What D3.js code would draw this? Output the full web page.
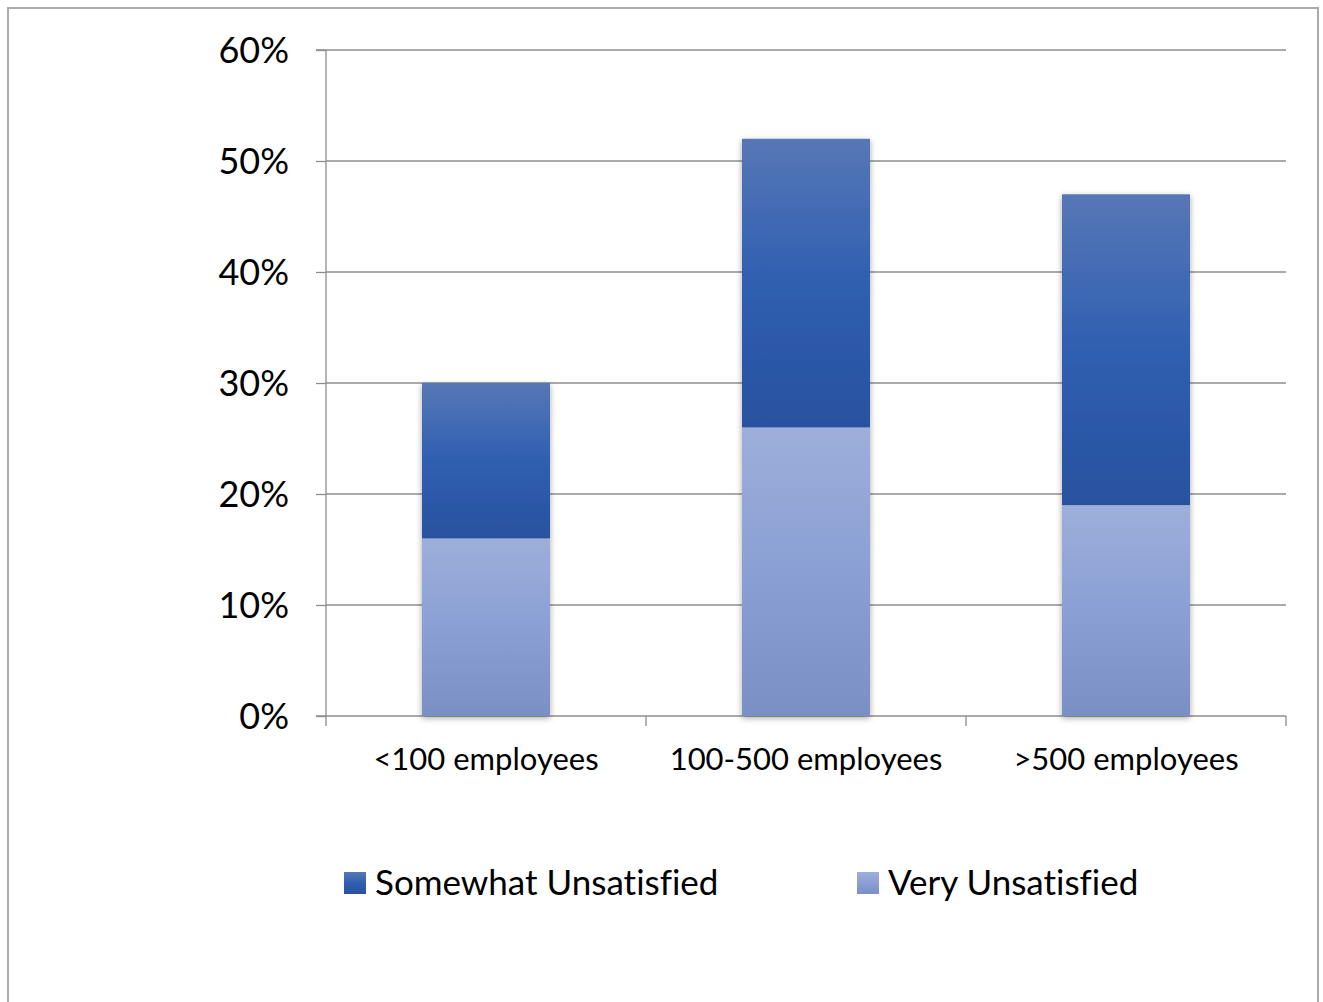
<!DOCTYPE html>
<html>
<head>
<meta charset="utf-8">
<script src="https://cdn.jsdelivr.net/npm/d3@7"></script>
<style>
  body { margin: 0; background: #fff; }
  text { font-family: "Lato", "Noto Sans", sans-serif; fill: #000; font-variant-ligatures: none; }
</style>
</head>
<body>
<script>
var categories = ["<100 employees", "100-500 employees", ">500 employees"];
var veryUnsatisfied = [16, 26, 19];
var somewhatUnsatisfied = [14, 26, 28];
var yTicks = [0, 10, 20, 30, 40, 50, 60];
var seriesNames = ["Somewhat Unsatisfied", "Very Unsatisfied"];

var W = 1323, H = 1002;
var margin = { left: 326, right: 37, top: 50, bottom: 286 };
var width = W - margin.left - margin.right;
var height = H - margin.top - margin.bottom;

var svg = d3.select("body").append("svg")
    .attr("width", W)
    .attr("height", H);

// outer frame
svg.append("rect")
    .attr("x", 8).attr("y", 8)
    .attr("width", 1310).attr("height", 1010)
    .attr("fill", "none")
    .attr("stroke", "#ababab")
    .attr("stroke-width", 2);

var defs = svg.append("defs");
var g1 = defs.append("linearGradient").attr("id", "gSome").attr("x1", 0).attr("y1", 0).attr("x2", 0).attr("y2", 1);
g1.append("stop").attr("offset", "0%").attr("stop-color", "#5777b6");
g1.append("stop").attr("offset", "50%").attr("stop-color", "#2f5fb1");
g1.append("stop").attr("offset", "100%").attr("stop-color", "#2a51a0");
var g2 = defs.append("linearGradient").attr("id", "gVery").attr("x1", 0).attr("y1", 0).attr("x2", 0).attr("y2", 1);
g2.append("stop").attr("offset", "0%").attr("stop-color", "#9dafda");
g2.append("stop").attr("offset", "50%").attr("stop-color", "#8a9fd4");
g2.append("stop").attr("offset", "100%").attr("stop-color", "#7a8fc4");

var shadow = defs.append("filter").attr("id", "shadow")
    .attr("x", "-20%").attr("y", "-5%").attr("width", "140%").attr("height", "115%");
shadow.append("feDropShadow")
    .attr("dx", 0).attr("dy", 2).attr("stdDeviation", 3)
    .attr("flood-color", "#000").attr("flood-opacity", 0.35);

var chart = svg.append("g")
    .attr("transform", `translate(${margin.left}, ${margin.top})`);

var x = d3.scaleBand()
    .domain(categories)
    .range([0, width])
    .paddingInner(0.6)
    .paddingOuter(0.3);

var y = d3.scaleLinear()
    .domain([0, 60])
    .range([height, 0]);

// gridlines
chart.selectAll(".grid")
    .data(yTicks.filter(d => d > 0))
    .enter()
    .append("line")
    .attr("x1", 0).attr("x2", width)
    .attr("y1", d => y(d)).attr("y2", d => y(d))
    .attr("stroke", "#8e8e8e")
    .attr("stroke-width", 1.3);

// y axis
var yAxis = chart.append("g")
    .call(d3.axisLeft(y).tickValues(yTicks).tickSize(10).tickPadding(27).tickFormat(d => d + "%"));
yAxis.select(".domain").attr("stroke", "#8e8e8e").attr("stroke-width", 1.3).attr("d", `M-10,0H0V${height}H-10`);
yAxis.selectAll(".tick line").attr("stroke", "#8e8e8e").attr("stroke-width", 1.3);
yAxis.selectAll(".tick text").style("font-size", "36px").attr("dy", "0.36em");

// x axis baseline and ticks
chart.append("line")
    .attr("x1", 0).attr("x2", width)
    .attr("y1", height).attr("y2", height)
    .attr("stroke", "#8e8e8e").attr("stroke-width", 1.3);
var step = width / categories.length;
chart.selectAll(".xtick")
    .data(d3.range(categories.length + 1))
    .enter()
    .append("line")
    .attr("x1", d => d * step).attr("x2", d => d * step)
    .attr("y1", height).attr("y2", height + 10)
    .attr("stroke", "#8e8e8e").attr("stroke-width", 1.3);

chart.selectAll(".xlabel")
    .data(categories)
    .enter()
    .append("text")
    .attr("x", d => x(d) + x.bandwidth() / 2)
    .attr("y", height + 54)
    .attr("text-anchor", "middle")
    .style("font-size", "31px")
    .text(d => d);

// bars
var bars = chart.append("g").attr("filter", "url(#shadow)");
bars.selectAll(".very")
    .data(categories)
    .enter()
    .append("rect")
    .attr("x", d => x(d))
    .attr("width", x.bandwidth())
    .attr("y", (d, i) => y(veryUnsatisfied[i]))
    .attr("height", (d, i) => height - y(veryUnsatisfied[i]))
    .attr("fill", "url(#gVery)");
bars.selectAll(".some")
    .data(categories)
    .enter()
    .append("rect")
    .attr("x", d => x(d))
    .attr("width", x.bandwidth())
    .attr("y", (d, i) => y(veryUnsatisfied[i] + somewhatUnsatisfied[i]))
    .attr("height", (d, i) => y(veryUnsatisfied[i]) - y(veryUnsatisfied[i] + somewhatUnsatisfied[i]))
    .attr("fill", "url(#gSome)");

// legend
var legendX = [344, 857];
var legend = svg.selectAll(".legend")
    .data(seriesNames)
    .enter()
    .append("g")
    .attr("transform", (d, i) => `translate(${legendX[i]}, 872)`);
legend.append("rect")
    .attr("width", 22).attr("height", 22)
    .attr("fill", (d, i) => i === 0 ? "url(#gSome)" : "url(#gVery)");
legend.append("text")
    .attr("x", 31).attr("y", 23)
    .style("font-size", "35px")
    .text(d => d);
</script>
</body>
</html>
